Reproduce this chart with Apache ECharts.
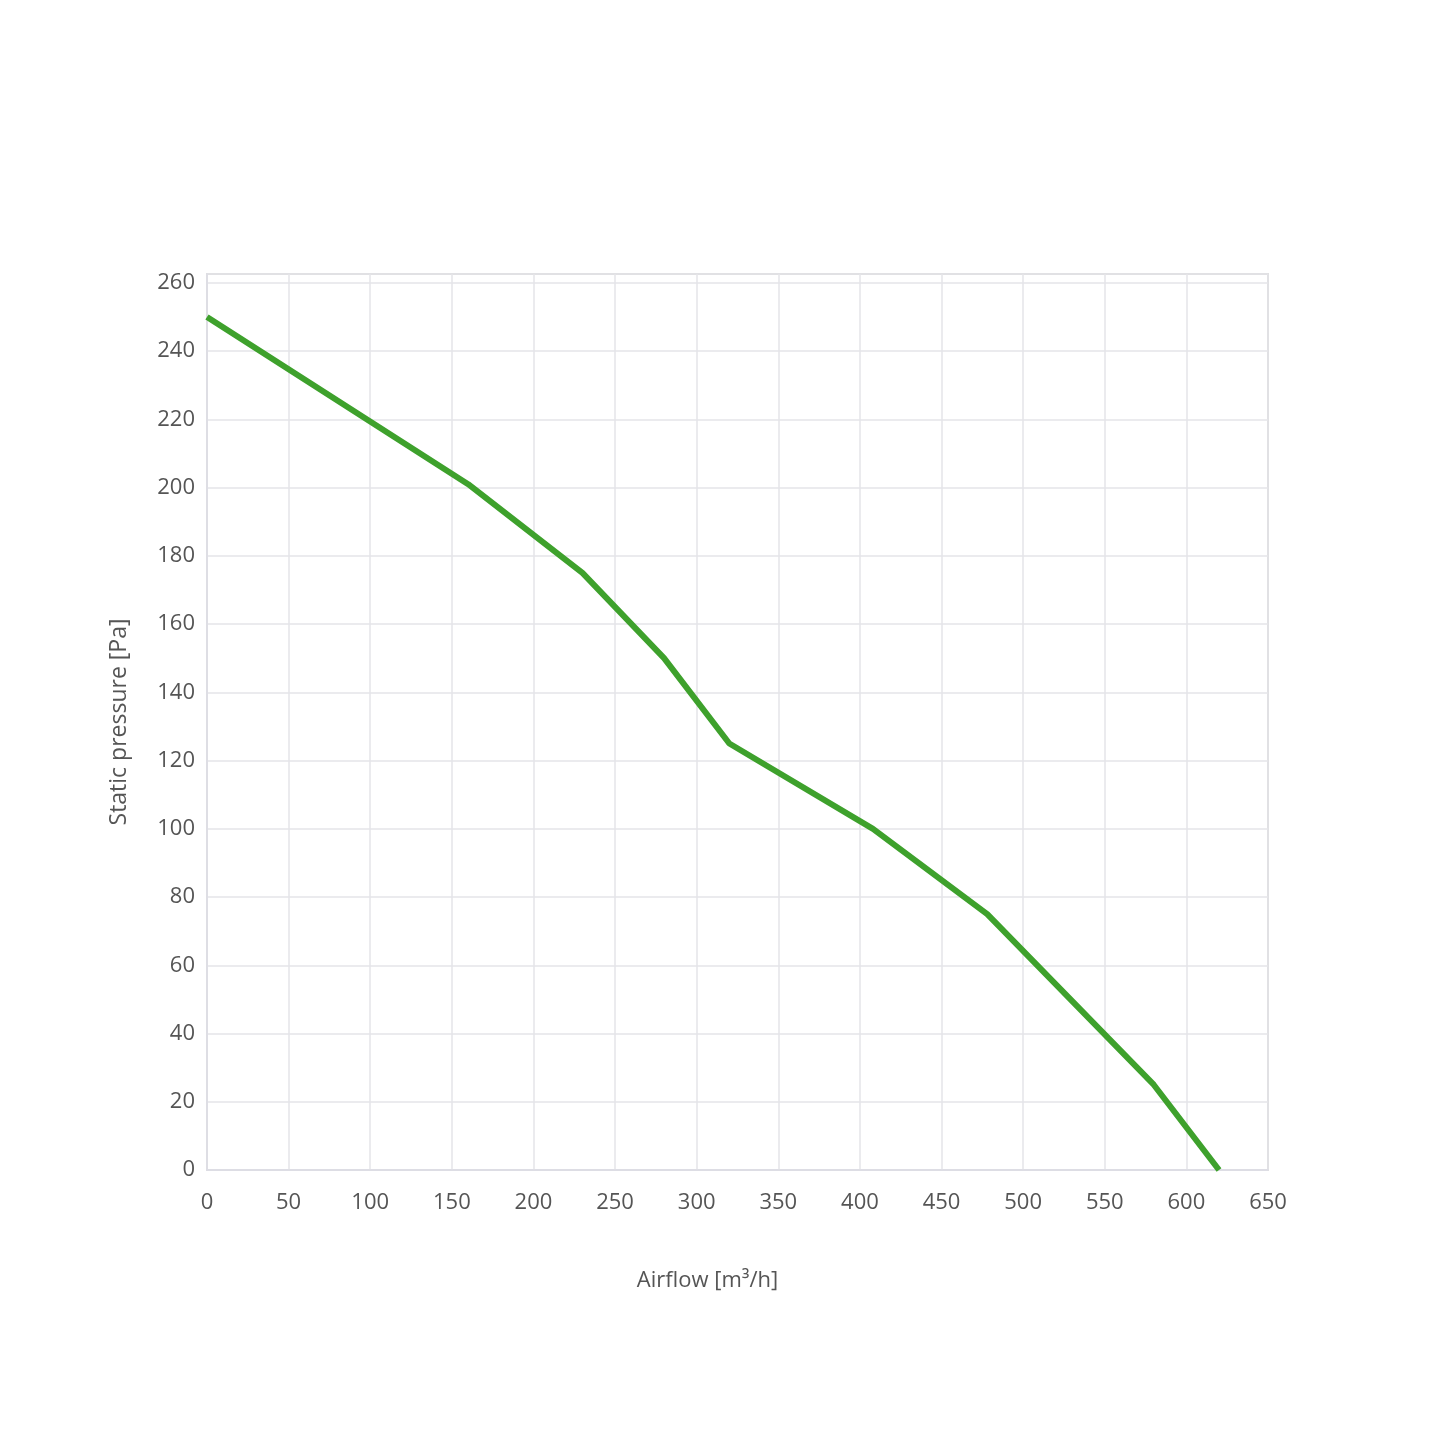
<!DOCTYPE html>
<html>
<head>
<meta charset="utf-8">
<script src="https://cdn.jsdelivr.net/npm/echarts@6/dist/echarts.min.js"></script>
<style>html,body{margin:0;padding:0;background:#fff}#c{width:1445px;height:1445px}</style>
</head>
<body>
<div id="c"></div>
<script>
const airflow = [0, 160, 230, 280, 320, 408, 478, 580, 620];
const pressure = [250, 201, 175, 150, 125, 100, 75, 25, 0];
const xTicks = [0, 50, 100, 150, 200, 250, 300, 350, 400, 450, 500, 550, 600, 650];
const yTicks = [0, 20, 40, 60, 80, 100, 120, 140, 160, 180, 200, 220, 240, 260];
const xName = 'Airflow [m³/h]';
const yName = 'Static pressure [Pa]';

const chart = echarts.init(document.getElementById('c'), null, {renderer: 'canvas'});
const font = 'Open Sans';
chart.setOption({
  animation: false,
  backgroundColor: '#fff',
  grid: {left: 207, right: 177, top: 274, bottom: 275, show: true, borderColor: '#c8c8c8', borderWidth: 1.5, backgroundColor: 'transparent'},
  xAxis: {
    type: 'value', min: 0, max: 650, interval: 50,
    name: xName, nameLocation: 'middle', nameGap: 100,
    nameTextStyle: {fontFamily: font, fontSize: 22, color: '#555', padding: [0, 60, 0, 0]},
    axisLine: {show: true, lineStyle: {color: '#dcdce4', width: 1.5}},
    axisTick: {show: false},
    axisLabel: {fontFamily: font, fontSize: 22, color: '#555', margin: 22,
      formatter: v => xTicks.includes(v) ? String(v) : ''},
    splitLine: {show: true, lineStyle: {color: '#e4e4e8', width: 1.5}}
  },
  yAxis: {
    type: 'value', min: 0, max: 262.6, interval: 20,
    name: yName, nameLocation: 'middle', nameGap: 76, nameRotate: 90,
    nameTextStyle: {fontFamily: font, fontSize: 23, color: '#555'},
    axisLine: {show: true, lineStyle: {color: '#dcdce4', width: 1.5}},
    axisTick: {show: false},
    axisLabel: {fontFamily: font, fontSize: 22, color: '#555', margin: 12, showMaxLabel: false,
      formatter: v => yTicks.includes(v) ? String(v) : ''},
    splitLine: {show: true, lineStyle: {color: '#e4e4e8', width: 1.5}}
  },
  series: [{
    type: 'line',
    data: airflow.map((x, i) => [x, pressure[i]]),
    showSymbol: false,
    lineStyle: {color: '#3ea12c', width: 6},
    itemStyle: {color: '#3ea12c'}
  }]
});
</script>
</body>
</html>
